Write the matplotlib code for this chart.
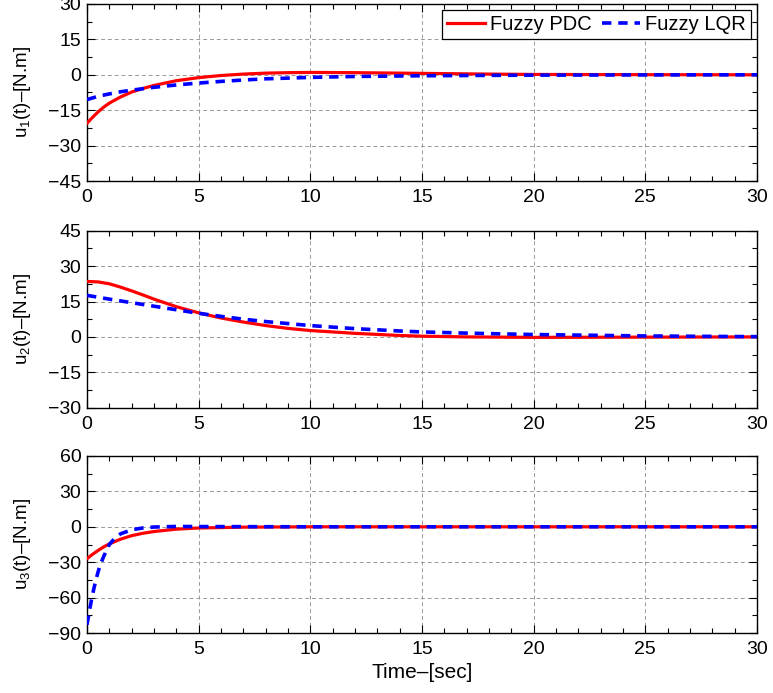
import numpy as np
import matplotlib
matplotlib.use("Agg")
import matplotlib.pyplot as plt
from matplotlib.ticker import MultipleLocator

plt.rcParams['font.family'] = ['Liberation Sans', 'DejaVu Sans']
plt.rcParams['mathtext.fontset'] = 'custom'
plt.rcParams['mathtext.rm'] = 'Liberation Sans'
plt.rcParams['mathtext.it'] = 'Liberation Sans'
plt.rcParams['mathtext.default'] = 'regular'

# ---- data ----
t1_pdc = [0, 0.25, 0.5, 0.75, 1, 1.5, 2, 2.5, 3, 4, 5, 6, 7, 8, 9, 10, 12, 15, 18, 20, 25, 30]
u1_pdc = [-20.5, -18.0, -15.7, -13.7, -12.0, -9.4, -7.3, -5.8, -4.5, -2.5, -1.2, -0.3, 0.3, 0.7, 0.9, 1.0, 0.9, 0.6, 0.3, 0.15, 0.05, 0.0]
t1_lqr = [0, 0.5, 1, 1.5, 2, 3, 4, 5, 6, 7, 8, 10, 12, 15, 20, 25, 30]
u1_lqr = [-10.5, -9.1, -8.1, -7.2, -6.5, -5.3, -4.3, -3.5, -2.8, -2.2, -1.7, -1.1, -0.7, -0.4, -0.15, -0.05, 0.0]

t2_pdc = [0, 0.5, 1, 1.5, 2, 2.5, 3, 4, 5, 6, 7, 8, 9, 10, 12, 14, 15, 17, 20, 25, 30]
u2_pdc = [23.5, 23.3, 22.5, 21.1, 19.5, 17.8, 16.0, 12.8, 10.2, 8.0, 6.3, 4.8, 3.6, 2.7, 1.5, 0.6, 0.3, 0.0, -0.2, -0.1, 0.0]
t2_lqr = [0, 1, 2, 3, 4, 5, 6, 7, 8, 10, 12, 14, 15, 17, 20, 25, 30]
u2_lqr = [17.6, 16.0, 14.5, 13.0, 11.5, 10.0, 8.7, 7.5, 6.5, 4.8, 3.5, 2.5, 2.1, 1.6, 1.0, 0.4, 0.1]

t3_pdc = [0, 0.25, 0.5, 0.75, 1, 1.5, 2, 2.5, 3, 4, 5, 7, 10, 15, 20, 30]
u3_pdc = [-27.0, -23.3, -20.0, -17.0, -14.5, -10.5, -7.5, -5.5, -4.0, -2.0, -1.0, -0.3, 0.0, 0.0, 0.0, 0.0]
t3_lqr = [0, 0.1, 0.2, 0.3, 0.4, 0.5, 0.6, 0.75, 1, 1.25, 1.5, 2, 2.5, 3, 4, 5, 10, 20, 30]
u3_lqr = [-83.0, -72.0, -62.0, -53.0, -45.0, -38.0, -32.0, -25.0, -15.0, -9.5, -6.0, -2.5, -1.0, -0.2, 0.3, 0.2, 0.0, 0.0, 0.0]

series_names = ["Fuzzy PDC", "Fuzzy LQR"]
ylabels = ["u$_1$(t)\u2013[N.m]", "u$_2$(t)\u2013[N.m]", "u$_3$(t)\u2013[N.m]"]
ylims = [(-45, 30), (-30, 45), (-90, 60)]
ysteps = [15, 15, 30]

fig = plt.figure(figsize=(7.73, 6.93), dpi=100)
L, W = 87/773, (757-87)/773
bottoms = [1-181/693, 1-407.7/693, 1-633/693]
H = 177/693

data = [(t1_pdc, u1_pdc, t1_lqr, u1_lqr),
        (t2_pdc, u2_pdc, t2_lqr, u2_lqr),
        (t3_pdc, u3_pdc, t3_lqr, u3_lqr)]

for i in range(3):
    ax = fig.add_axes([L, bottoms[i], W, H])
    tp, up, tl, ul = data[i]
    ax.plot(tp, up, color='#ff0000', lw=2.3, label=series_names[0], zorder=3)
    ax.plot(tl, ul, color='#0000ff', lw=2.6, ls=(0, (2.6, 1.9)), label=series_names[1], zorder=4)
    ax.set_xlim(0, 30)
    ax.set_ylim(*ylims[i])
    ax.xaxis.set_major_locator(MultipleLocator(5))
    ax.xaxis.set_minor_locator(MultipleLocator(1))
    ax.yaxis.set_major_locator(MultipleLocator(ysteps[i]))
    ax.yaxis.set_minor_locator(MultipleLocator(ysteps[i]/2))
    ax.tick_params(which='both', direction='in', top=True, right=True, labelsize=14)
    ax.tick_params(axis='x', which='both', pad=6)
    ax.tick_params(axis='y', which='both', pad=4)
    ax.tick_params(which='major', length=6, width=0.8)
    ax.tick_params(which='minor', length=3.5, width=0.8)
    ax.grid(True, which='major', ls=(0, (4, 3)), color='#999999', lw=0.7)
    for s in ax.spines.values():
        s.set_linewidth(1.0)
    ax.set_ylabel(ylabels[i], fontsize=13.5)
    ax.yaxis.set_label_coords(-0.08, 0.5)
    if i == 0:
        leg = ax.legend(loc='upper right', ncol=2, fontsize=14.5, frameon=True, fancybox=False,
                        edgecolor='black', framealpha=1, handlelength=1.9, handletextpad=0.25,
                        columnspacing=0.5, borderpad=0.25, borderaxespad=0.3)
        leg.get_frame().set_linewidth(0.9)
    if i == 2:
        ax.set_xlabel("Time\u2013[sec]", fontsize=15)
        ax.xaxis.set_label_coords(0.5, -0.17)
        ax.xaxis.label.set_va('top')

fig.savefig("out.png", dpi=100)
